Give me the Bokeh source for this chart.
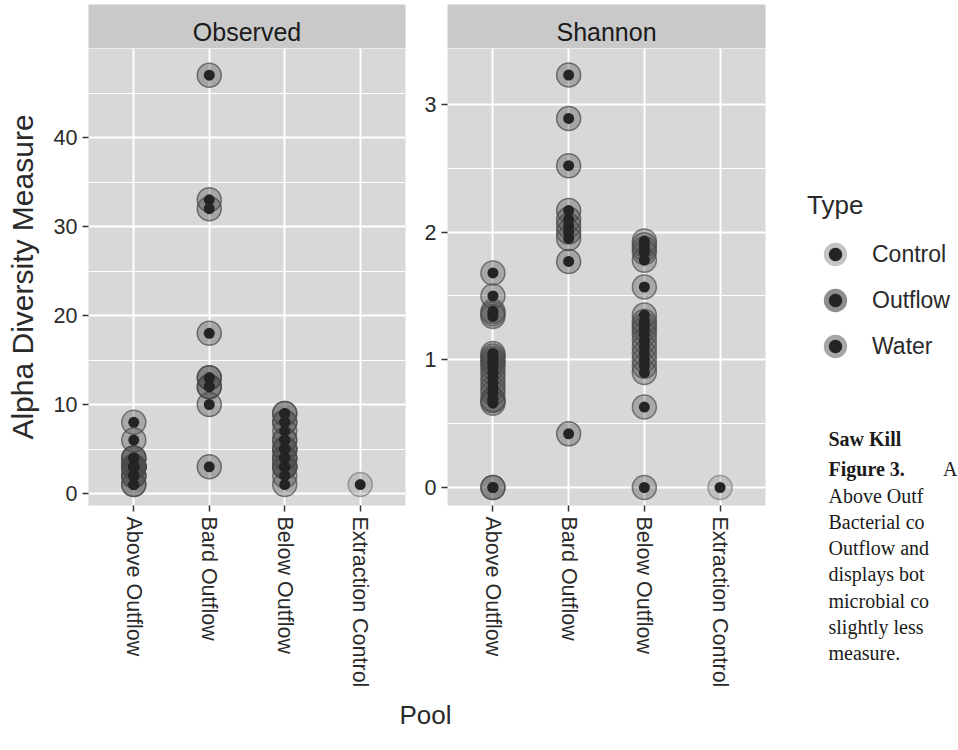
import math
from bokeh.plotting import figure
from bokeh.models import (FactorRange, Range1d, FixedTicker, Label,
                          Legend, LegendItem, ColumnDataSource)
from bokeh.layouts import row, column
from bokeh.embed import file_html
from bokeh.resources import INLINE

# ---------------- data ----------------
pools = ["Above Outflow", "Bard Outflow", "Below Outflow", "Extraction Control"]
pool_type = {"Above Outflow": "Water", "Bard Outflow": "Outflow",
             "Below Outflow": "Water", "Extraction Control": "Control"}
types = ["Control", "Outflow", "Water"]

above_obs = [8, 6, 4, 4, 4, 3, 3, 3, 3, 3, 3, 3, 3, 3, 3, 3, 2, 2, 2, 1, 1]
above_sha = [1.68, 1.50, 1.38, 1.36, 1.34, 1.05, 1.03, 1.01, 0.99, 0.97, 0.94, 0.90,
             0.86, 0.82, 0.78, 0.74, 0.69, 0.68, 0.66, 0.0, 0.0]
bard_obs = [47, 33, 32, 18, 13, 13, 12, 12, 10, 3]
bard_sha = [3.23, 2.89, 2.52, 2.17, 2.10, 2.05, 2.00, 1.95, 1.77, 0.42]
below_obs = [9, 9, 8, 8, 7, 6, 6, 5, 5, 5, 4, 4, 4, 3, 3, 3, 3, 2, 1]
below_sha = [1.93, 1.90, 1.87, 1.84, 1.78, 1.57, 1.35, 1.30, 1.27, 1.24, 1.20, 1.15,
             1.10, 1.05, 1.00, 0.95, 0.90, 0.63, 0.0]
ctrl_obs = [1]
ctrl_sha = [0.0]

obs_ticks = [0, 10, 20, 30, 40]
obs_minor = [5, 15, 25, 35, 45]
sha_ticks = [0, 1, 2, 3]
sha_minor = [0.5, 1.5, 2.5]

caption_lines = ["Above Outf", "Bacterial co", "Outflow and", "displays bot",
                 "microbial co", "slightly less", "measure."]

# ---------------- styles ----------------
FONT = "Liberation Sans"
SERIF = "Liberation Serif"
PANEL = "#d8d8d8"
STRIP = "#c9c9c9"
TXT = "#2a2a2a"
halo_fill = {"Control": "#8c8c8c", "Outflow": "#444444", "Water": "#4c4c4c"}
halo_edge = {"Control": "#7a7a7a", "Outflow": "#444444", "Water": "#4c4c4c"}
ring_col = {"Control": "#c4c4c4", "Outflow": "#8e8e8e", "Water": "#a6a6a6"}
DOT = "#242424"

H_TOP = 697          # height of the upper block (strips + panels + tick labels)
STRIP_TOP = 4
PANEL_TOP_PX = 48
PANEL_BOTTOM_PX = 505
STRIP_TEXT_PX = 31


def source(series):
    xs, ys, hf, he = [], [], [], []
    for pool, vals in zip(pools, series):
        t = pool_type[pool]
        for v in vals:
            xs.append(pool); ys.append(v)
            hf.append(halo_fill[t]); he.append(halo_edge[t])
    return ColumnDataSource(dict(x=xs, y=ys, hf=hf, he=he))


def make_panel(name, series, zero_px, px_per, majors, minors, width, bl, br, ylabel=None):
    y0 = -(PANEL_BOTTOM_PX - zero_px) / px_per
    y1 = (zero_px - PANEL_TOP_PX) / px_per
    xr = FactorRange(factors=pools, range_padding=0.05, range_padding_units="percent")
    p = figure(x_range=xr, y_range=Range1d(y0, y1), width=width, height=H_TOP - PANEL_TOP_PX,
               min_border_left=bl, min_border_right=br, min_border_top=0,
               min_border_bottom=H_TOP - PANEL_BOTTOM_PX,
               toolbar_location=None, output_backend="svg",
               background_fill_color=PANEL, border_fill_color="white",
               outline_line_color=None)
    src = source(series)
    p.scatter("x", "y", source=src, size=24, fill_color="hf", fill_alpha=0.34,
              line_color="he", line_alpha=0.7, line_width=1.5)
    p.scatter("x", "y", source=src, size=11, fill_color=DOT, line_color=None)

    p.xgrid.grid_line_color = "white"
    p.xgrid.grid_line_width = 2.0
    p.ygrid.ticker = FixedTicker(ticks=majors, minor_ticks=minors)
    p.ygrid.grid_line_color = "white"
    p.ygrid.grid_line_width = 2.0
    p.ygrid.minor_grid_line_color = "white"
    p.ygrid.minor_grid_line_width = 1.0
    p.yaxis.ticker = FixedTicker(ticks=majors)

    p.axis.axis_line_color = None
    p.axis.major_tick_line_color = "#333333"
    p.axis.major_tick_line_width = 1.5
    p.axis.major_tick_out = 6
    p.axis.major_tick_in = 0
    p.axis.minor_tick_line_color = None
    p.axis.major_label_text_font = FONT
    p.axis.major_label_text_font_size = "21.5px"
    p.axis.major_label_text_color = TXT
    p.axis.major_label_standoff = 5
    p.xaxis.major_label_orientation = -math.pi / 2
    p.xaxis.major_label_standoff = 5
    if ylabel:
        p.yaxis.axis_label = ylabel
        p.yaxis.axis_label_text_font = FONT
        p.yaxis.axis_label_text_font_size = "30px"
        p.yaxis.axis_label_text_font_style = "normal"
        p.yaxis.axis_label_text_color = TXT
        p.yaxis.axis_label_standoff = 12

    # facet strip: its own small figure sharing the x range
    s = figure(x_range=xr, y_range=Range1d(0, 1), width=width, height=PANEL_TOP_PX,
               min_border_left=bl, min_border_right=br, min_border_top=STRIP_TOP,
               min_border_bottom=0, toolbar_location=None, output_backend="svg",
               background_fill_color=STRIP, border_fill_color="white", outline_line_color=None)
    s.axis.visible = False
    s.grid.visible = False
    strip_h = PANEL_TOP_PX - STRIP_TOP
    s.add_layout(Label(x=2.0, y=(PANEL_TOP_PX - STRIP_TEXT_PX) / strip_h, text=name,
                       text_align="center", text_baseline="middle", text_font=FONT,
                       text_font_size="25px", text_color="#1a1a1a"))
    return column(s, p)


c1 = make_panel("Observed", [above_obs, bard_obs, below_obs, ctrl_obs], 493, 8.9,
                obs_ticks, obs_minor, 415, 88, 10, "Alpha Diversity Measure")
c2 = make_panel("Shannon", [above_sha, bard_sha, below_sha, ctrl_sha], 487, 127.7,
                sha_ticks, sha_minor, 355, 32, 5)

# ---------------- legend ----------------
W3 = 188
X3 = 770
LEG_H_FIG = 400
pleg = figure(width=W3, height=LEG_H_FIG, x_range=Range1d(0, 1), y_range=Range1d(0, 1),
              min_border=0, toolbar_location=None, output_backend="svg", outline_line_color=None,
              background_fill_color="white", border_fill_color="white")
pleg.axis.visible = False
pleg.grid.visible = False
items = []
for t in types:
    # legend key proxies, kept outside the visible range
    r = pleg.scatter(x=[-100], y=[-100], size=16, fill_color=DOT, line_color=ring_col[t], line_width=5)
    items.append(LegendItem(label=t, renderers=[r]))
LEG_LEFT_PX, LEG_BOTTOM_PX = 807, 369
leg = Legend(items=items, location=(LEG_LEFT_PX - X3, LEG_H_FIG - LEG_BOTTOM_PX), margin=0,
             padding=4, title="Type",
             title_text_font=FONT, title_text_font_size="26px", title_text_font_style="normal",
             title_text_color=TXT, title_standoff=10,
             label_text_font=FONT, label_text_font_size="23px", label_text_color=TXT,
             glyph_width=56, glyph_height=46, spacing=0, label_standoff=9,
             background_fill_alpha=0, border_line_color=None)
pleg.add_layout(leg)

# ---------------- caption ----------------
CAP_H = H_TOP - LEG_H_FIG
pcap = figure(width=W3, height=CAP_H, x_range=Range1d(0, W3), y_range=Range1d(0, CAP_H),
              min_border=0, toolbar_location=None, output_backend="svg",
              outline_line_color=None, background_fill_color="white", border_fill_color="white")
pcap.axis.visible = False
pcap.grid.visible = False
CAP_X = 828 - X3


def cap_y(px):
    return H_TOP - px


pcap.add_layout(Label(x=CAP_X, y=cap_y(438), text="Saw Kill", text_font=SERIF,
                      text_font_size="20px", text_font_style="bold", text_baseline="middle",
                      text_color="#1a1a1a"))
pcap.add_layout(Label(x=CAP_X, y=cap_y(468), text="Figure 3.", text_font=SERIF,
                      text_font_size="20px", text_font_style="bold", text_baseline="middle",
                      text_color="#1a1a1a"))
pcap.add_layout(Label(x=W3 - 1, y=cap_y(468), text="A", text_font=SERIF, text_align="right",
                      text_font_size="20px", text_baseline="middle", text_color="#1a1a1a"))
for i, line in enumerate(caption_lines):
    pcap.add_layout(Label(x=CAP_X, y=cap_y(495 + i * 26.3), text=line, text_font=SERIF,
                          text_font_size="20px", text_baseline="middle", text_color="#1a1a1a"))

# ---------------- footer (x title) ----------------
FOOT_H = 750 - H_TOP
pfoot = figure(width=958, height=FOOT_H, x_range=Range1d(0, 958), y_range=Range1d(0, FOOT_H),
               min_border=0, toolbar_location=None, output_backend="svg",
               outline_line_color=None, background_fill_color="white", border_fill_color="white")
pfoot.axis.visible = False
pfoot.grid.visible = False
pfoot.add_layout(Label(x=425, y=750 - 714, text="Pool", text_font=FONT,
                       text_font_size="26px", text_align="center", text_baseline="middle",
                       text_color=TXT))

layout = column(row(c1, c2, column(pleg, pcap)), pfoot)
open("out.html", "w").write(file_html(layout, INLINE))
